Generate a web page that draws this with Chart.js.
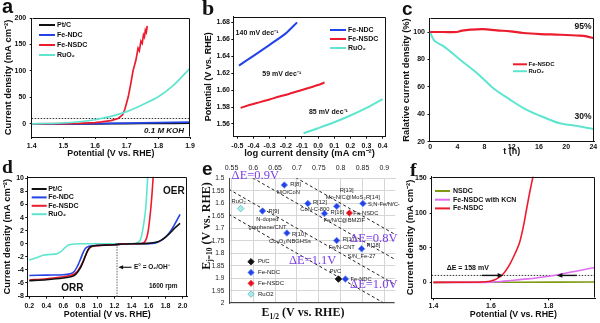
<!DOCTYPE html>
<html lang="en">
<head>
<meta charset="UTF-8">
<title>Fe-NSDC OER / ORR panels</title>
<script src="https://cdn.jsdelivr.net/npm/chart.js@4.4.0/dist/chart.umd.min.js"></script>
<style>
  html, body { margin: 0; padding: 0; background: #fff; }
  #fig { position: relative; width: 600px; height: 323px; overflow: hidden; }
  #fig canvas { position: absolute; }
  .tag { position: absolute; font-weight: bold; line-height: 1; color: #111; }
  .sans { font-family: "Liberation Sans", Arial, sans-serif; }
  .serif { font-family: "Liberation Serif", "Times New Roman", serif; }
</style>
</head>
<body>
<div id="fig">
  <canvas id="pa" width="200" height="161" style="left:0;top:0"></canvas>
  <canvas id="pb" width="200" height="161" style="left:200px;top:0"></canvas>
  <canvas id="pc" width="200" height="161" style="left:400px;top:0"></canvas>
  <canvas id="pd" width="200" height="162" style="left:0;top:161px"></canvas>
  <canvas id="pe" width="200" height="162" style="left:200px;top:161px"></canvas>
  <canvas id="pf" width="200" height="162" style="left:400px;top:161px"></canvas>

  <div class="tag sans" style="left:2px;top:-4px;font-size:20px">a</div>
  <div class="tag serif" style="left:202px;top:-3px;font-size:22px">b</div>
  <div class="tag sans" style="left:402px;top:-1px;font-size:19px">c</div>
  <div class="tag serif" style="left:2px;top:157px;font-size:19.5px">d</div>
  <div class="tag sans" style="left:202px;top:159px;font-size:19px">e</div>
  <div class="tag serif" style="left:410px;top:160px;font-size:19.5px">f</div>
</div>

<script>
// ---------- data ----------
// a: OER polarization curves in 0.1 M KOH
const aTicksX = [1.4, 1.5, 1.6, 1.7, 1.8, 1.9];
const aTicksY = [0, 50, 100, 150, 200];
const aPtcX = [1.40, 1.60, 1.70, 1.80, 1.90];
const aPtcY = [0, 0, 0.3, 0.7, 1.2];
const aFeNdcX = [1.40, 1.55, 1.60, 1.70, 1.80, 1.90];
const aFeNdcY = [0, 0, 0.3, 1.2, 2.2, 3.2];
const aFeNsdcX = [1.40, 1.50, 1.55, 1.60, 1.62, 1.65, 1.673, 1.687, 1.694, 1.705, 1.713, 1.720, 1.729, 1.736, 1.740, 1.745, 1.749, 1.753, 1.756, 1.759, 1.762, 1.765];
const aFeNsdcY = [0, 0.3, 0.8, 2.2, 3.5, 6, 10, 17, 27, 51, 76, 100, 120, 143, 138, 156, 152, 168, 164, 177, 173, 185];
const aRuo2X = [1.40, 1.45, 1.50, 1.55, 1.60, 1.65, 1.70, 1.75, 1.80, 1.85, 1.90];
const aRuo2Y = [0, 0.5, 1.5, 3.8, 7.6, 14, 23, 36, 51, 74, 105];
const aRefJ = 10;

// b: Tafel plots
const bTicksX = [-0.5, -0.4, -0.3, -0.2, -0.1, 0.0, 0.1, 0.2, 0.3, 0.4];
const bTicksY = [1.56, 1.58, 1.60, 1.62, 1.64, 1.66, 1.68];
const bFeNdcX = [-0.49, -0.40, -0.30, -0.20, -0.13];
const bFeNdcY = [1.629, 1.6405, 1.6535, 1.667, 1.680];
const bFeNsdcX = [-0.48, -0.44, -0.42, -0.36, -0.30, -0.24, -0.18, -0.12, -0.06, 0.00, 0.04];
const bFeNsdcY = [1.579, 1.5815, 1.5828, 1.5858, 1.589, 1.5925, 1.5955, 1.599, 1.6025, 1.606, 1.609];
const bRuo2X = [-0.09, 0.0, 0.1, 0.2, 0.3, 0.4];
const bRuo2Y = [1.549, 1.555, 1.562, 1.570, 1.579, 1.5895];
const bSlopes = ['140 mV dec⁻¹', '59 mV dec⁻¹', '85 mV dec⁻¹'];

// c: chronoamperometric stability
const cTicksX = [0, 4, 8, 12, 16, 20, 24];
const cTicksY = [20, 40, 60, 80, 100];
const cFeNsdcX = [0, 2, 3.9, 4.7, 5.9, 7.8, 9.8, 11.8, 13.7, 16.2, 19.1, 22, 23, 24];
const cFeNsdcY = [100, 100, 100, 101, 101.7, 102.1, 101.2, 100.5, 99.3, 98.5, 98, 97.3, 96.8, 95.6];
const cRuo2X = [0, 0.25, 0.7, 2, 4.4, 6.9, 9.3, 11.8, 14.2, 16.7, 19.1, 21.6, 24];
const cRuo2Y = [100, 96.8, 93.2, 89.5, 79.8, 70, 59, 50.5, 43.2, 37.8, 33.4, 31.5, 29.3];
const cRetained = ['95%', '30%'];

// d: bifunctional ORR / OER curves at 1600 rpm
const dTicksX = [0.2, 0.4, 0.6, 0.8, 1.0, 1.2, 1.4, 1.6, 1.8, 2.0];
const dTicksY = [-8, -6, -4, -2, 0, 2, 4, 6, 8, 10];
const dPtcX = [0.2, 0.4, 0.6, 0.7, 0.75, 0.8, 0.83, 0.86, 0.89, 0.92, 0.96, 1.1, 1.2, 1.3, 1.4, 1.6, 1.7, 1.75, 1.8, 1.85, 1.9, 1.97];
const dPtcY = [-5.65, -5.5, -5.25, -5.0, -4.6, -3.7, -2.8, -1.8, -0.9, -0.45, -0.3, -0.22, -0.15, -0.05, 0, 0.05, 0.25, 0.55, 1.0, 1.6, 2.3, 3.1];
const dFeNdcX = [0.2, 0.4, 0.6, 0.68, 0.73, 0.77, 0.8, 0.83, 0.86, 0.9, 0.96, 1.1, 1.2, 1.3, 1.4, 1.65, 1.72, 1.78, 1.84, 1.9, 1.97];
const dFeNdcY = [-4.85, -4.8, -4.75, -4.6, -4.2, -3.3, -2.4, -1.4, -0.7, -0.4, -0.3, -0.2, -0.15, -0.05, 0, 0.05, 0.3, 0.8, 1.6, 2.8, 4.5];
const dFeNsdcX = [0.2, 0.4, 0.6, 0.7, 0.76, 0.8, 0.84, 0.87, 0.9, 0.93, 0.98, 1.1, 1.2, 1.3, 1.4, 1.5, 1.55, 1.58, 1.60, 1.625, 1.64, 1.655];
const dFeNsdcY = [-5.55, -5.35, -5.05, -4.8, -4.3, -3.5, -2.5, -1.5, -0.8, -0.45, -0.3, -0.2, -0.15, -0.05, 0, 0, 0.2, 1.0, 2.3, 5.2, 7.5, 10.3];
const dRuo2X = [0.2, 0.3, 0.36, 0.44, 0.52, 0.57, 0.62, 0.66, 0.72, 0.8, 1.44, 1.48, 1.51, 1.53, 1.55, 1.565, 1.578, 1.59];
const dRuo2Y = [-2.5, -2.05, -1.75, -1.65, -1.55, -1.2, -0.6, -0.2, -0.05, 0, 0, 0.2, 0.8, 2.0, 3.6, 5.2, 7.5, 10.3];
const dEquil = 1.23;

// e: E(j=10) vs E1/2 comparison with literature
const eTicksX = [0.55, 0.6, 0.65, 0.7, 0.75, 0.8, 0.85, 0.9];
const eTicksY = [1.5, 1.55, 1.6, 1.65, 1.7, 1.75, 1.8, 1.85, 1.9, 1.95, 2.0];
const eLitNames = ['NiO/CoN', 'N-doped\ngraphene/CNT', 'Co₃O₄/NBGHSs', 'CoN-C-800', 'Fe/N/C@BMZIF', 'Mo-N/C@MoS₂', 'S,N-Fe/N/C-CNT', 'Fe/N-CNT', 'S/N_Fe-27'];
const eLitRefs = ['R[8]', 'R[9]', 'R[10]', 'R[12]', 'R[16]', 'R[13]', 'R[14]', 'R[17]', 'R[18]'];
const eLitHalf = [0.671, 0.621, 0.677, 0.725, 0.763, 0.791, 0.851, 0.791, 0.848];
const eLitJ10 = [1.527, 1.631, 1.719, 1.601, 1.641, 1.612, 1.601, 1.749, 1.782];
const eOwnNames = ['Pt/C', 'Fe-NDC', 'Fe-NSDC', 'RuO2'];
const eOwnHalf = [0.795, 0.811, 0.820, 0.571];
const eOwnJ10 = [1.903, 1.903, 1.639, 1.621];
const eDeltaE = [0.8, 0.9, 1.0, 1.1];

// f: KCN poisoning
const fTicksX = [1.4, 1.6, 1.8];
const fTicksY = [0, 50, 100, 150];
const fNsdcX = [1.40, 1.70, 1.96];
const fNsdcY = [0, 0.2, 0.5];
const fKcnX = [1.40, 1.58, 1.62, 1.66, 1.70, 1.75, 1.80, 1.85, 1.90, 1.96];
const fKcnY = [0, 0, 0.8, 2.3, 4.0, 6.0, 8.8, 12.5, 16.5, 21.5];
const fFeNsdcX = [1.40, 1.55, 1.58, 1.60, 1.62, 1.64, 1.66, 1.68, 1.70, 1.715, 1.725, 1.735, 1.745, 1.75];
const fFeNsdcY = [0, 0.2, 0.8, 2, 5, 11, 22, 38, 58, 85, 108, 130, 150, 160];
const fRefJ = 10;
const fShift = 'ΔE = 158 mV';

// ---------- helpers ----------
const SANS = '"Liberation Sans", Arial, sans-serif';
const SERIF = '"Liberation Serif", "Times New Roman", serif';
const BLACK = '#111', BLUE = '#2343e8', RED = '#ec1b2e', CYAN = '#5fe5cf', OLIVE = '#7f9a12', PINK = '#e06ef0';

const pts = (xs, ys) => xs.map((x, i) => ({ x, y: ys[i] }));
const first = a => a[0], last = a => a[a.length - 1];

function curve(label, xs, ys, color, order, extra) {
  return Object.assign({
    label, data: pts(xs, ys), borderColor: color, backgroundColor: color,
    borderWidth: 1.7, pointRadius: 0, showLine: true, tension: 0.25, order, fill: false
  }, extra || {});
}

function dotted(xs, ys, order) {
  return { label: '', noKey: true, data: pts(xs, ys), borderColor: '#333', borderWidth: 1,
           borderDash: [1.5, 1.5], pointRadius: 0, showLine: true, order };
}

function axis(o) {
  return {
    type: 'linear', position: o.pos, min: o.min, max: o.max, reverse: !!o.reverse,
    afterBuildTicks: s => { s.ticks = o.ticks.map(v => ({ value: v })); },
    afterFit: s => {
      if (s.isHorizontal()) { s.height = o.size; s.paddingLeft = 0; s.paddingRight = 0; }
      else { s.width = o.size; s.paddingTop = 0; s.paddingBottom = 0; }
    },
    border: { display: true, color: o.borderColor || BLACK, width: 1 },
    grid: { drawOnChartArea: !!o.grid, color: o.grid || BLACK, drawTicks: !!o.tick, tickLength: o.tick || 0, tickColor: BLACK },
    ticks: { padding: o.tickPad, color: o.tickColor || BLACK, autoSkip: false, maxRotation: 0, minRotation: 0,
             font: o.tickFont || { family: SANS, size: 7, weight: 'bold' }, callback: o.fmt },
    title: o.title
      ? { display: true, text: o.title, color: BLACK, padding: o.titlePad,
          font: { family: SANS, size: o.titleSize || 9, weight: 'bold', lineHeight: 1 } }
      : { display: false }
  };
}

function framePlugin(sides, color) {
  return { id: 'frame', afterDatasetsDraw(chart) {
    const { ctx, chartArea: a } = chart;
    const l = Math.round(a.left) + 0.5, r = Math.round(a.right) - 0.5;
    const t = Math.round(a.top) + 0.5, b = Math.round(a.bottom) - 0.5;
    ctx.save();
    ctx.strokeStyle = color || BLACK; ctx.lineWidth = 1; ctx.beginPath();
    if (sides.includes('t')) { ctx.moveTo(l, t); ctx.lineTo(r, t); }
    if (sides.includes('r')) { ctx.moveTo(r, t); ctx.lineTo(r, b); }
    if (sides.includes('b')) { ctx.moveTo(l, b); ctx.lineTo(r, b); }
    if (sides.includes('l')) { ctx.moveTo(l, t); ctx.lineTo(l, b); }
    ctx.stroke(); ctx.restore();
  }};
}

function diamond(ctx, x, y, r, fill, stroke) {
  ctx.beginPath();
  ctx.moveTo(x, y - r); ctx.lineTo(x + r, y); ctx.lineTo(x, y + r); ctx.lineTo(x - r, y);
  ctx.closePath(); ctx.fillStyle = fill; ctx.fill();
  if (stroke) { ctx.strokeStyle = stroke; ctx.lineWidth = 0.8; ctx.stroke(); }
}

// legend inside the plot, rows offset from the chart area's top-left corner
function keyPlugin(o) {
  return { id: 'key', afterDraw(chart) {
    const { ctx, chartArea: a } = chart;
    ctx.save();
    ctx.font = `${o.weight || 'bold'} ${o.size}px ${SANS}`;
    ctx.textBaseline = 'middle'; ctx.textAlign = 'left';
    let row = 0;
    chart.data.datasets.forEach(ds => {
      if (ds.noKey) return;
      const x = a.left + o.x, y = a.top + o.y + row * o.gap;
      let tx;
      if (o.marker) {
        diamond(ctx, x, y, o.r, ds.pointBackgroundColor, ds.pointBorderColor);
        tx = x + o.pad;
      } else {
        ctx.strokeStyle = ds.borderColor; ctx.lineWidth = o.lw || 2;
        ctx.beginPath(); ctx.moveTo(x, y); ctx.lineTo(x + o.len, y); ctx.stroke();
        tx = x + o.len + o.pad;
      }
      ctx.fillStyle = BLACK;
      ctx.fillText(ds.label, tx, y);
      row++;
    });
    ctx.restore();
  }};
}

function arrow(ctx, x1, y1, x2, y2, lw, head) {
  const dir = Math.sign(x2 - x1);
  ctx.lineWidth = lw;
  ctx.beginPath(); ctx.moveTo(x1, y1); ctx.lineTo(x2 - dir * head, y2); ctx.stroke();
  ctx.beginPath(); ctx.moveTo(x2, y2);
  ctx.lineTo(x2 - dir * head * 1.6, y2 - head * 0.7);
  ctx.lineTo(x2 - dir * head * 1.6, y2 + head * 0.7);
  ctx.closePath(); ctx.fill();
}

// text and arrows placed in data coordinates (plus optional pixel nudges)
function notesPlugin(items) {
  return { id: 'notes', afterDraw(chart) {
    const { ctx, scales: { x, y } } = chart;
    items.forEach(n => {
      const px = x.getPixelForValue(n.x) + (n.dx || 0);
      const py = y.getPixelForValue(n.y) + (n.dy || 0);
      ctx.save();
      ctx.fillStyle = n.color || BLACK; ctx.strokeStyle = n.color || BLACK;
      if (n.to !== undefined) {
        arrow(ctx, px, py, x.getPixelForValue(n.to), py, n.lw || 1.3, n.head || 3.5);
      } else {
        ctx.font = n.font; ctx.textAlign = n.align || 'center'; ctx.textBaseline = 'middle';
        String(n.text).split('\n').forEach((ln, i) => ctx.fillText(ln, px, py + i * (n.lh || 0)));
      }
      ctx.restore();
    });
  }};
}

// rich (subscripted) serif titles for panel e, in canvas pixels
function richTitlePlugin(titles) {
  return { id: 'richTitles', afterDraw(chart) {
    const ctx = chart.ctx;
    titles.forEach(t => {
      ctx.save();
      ctx.translate(t.x, t.y); ctx.rotate(t.rot || 0);
      ctx.fillStyle = BLACK; ctx.textAlign = 'left'; ctx.textBaseline = 'alphabetic';
      const fontOf = s => `bold ${s.sub ? t.size * 0.62 : t.size}px ${SERIF}`;
      let w = 0;
      t.segs.forEach(s => { ctx.font = fontOf(s); w += ctx.measureText(s.t).width; });
      let cx = -w / 2;
      t.segs.forEach(s => {
        ctx.font = fontOf(s);
        ctx.fillText(s.t, cx, t.size * 0.35 + (s.sub ? t.size * 0.22 : 0));
        cx += ctx.measureText(s.t).width;
      });
      ctx.restore();
    });
  }};
}

function build(id, cfg) {
  return new Chart(document.getElementById(id), {
    type: 'scatter',
    data: { datasets: cfg.datasets },
    options: {
      responsive: false, animation: false, devicePixelRatio: 1, events: [],
      layout: { padding: cfg.pad },
      plugins: { legend: { display: false }, tooltip: { enabled: false } },
      scales: { x: cfg.x, y: cfg.y }
    },
    plugins: cfg.plugins
  });
}

const f1 = v => v.toFixed(1);
const f2 = v => v.toFixed(2);
const f0 = v => String(v);
const trim = v => String(+v.toFixed(2));

// ---------- a ----------
build('pa', {
  pad: { top: 18, right: 10, left: 0, bottom: 0 },
  datasets: [
    curve('Pt/C', aPtcX, aPtcY, BLACK, 4),
    curve('Fe-NDC', aFeNdcX, aFeNdcY, BLUE, 3),
    curve('Fe-NSDC', aFeNsdcX, aFeNsdcY, RED, 2, { tension: 0 }),
    curve('RuO₂', aRuo2X, aRuo2Y, CYAN, 1),
    dotted([first(aTicksX), last(aTicksX)], [aRefJ, aRefJ], 5)
  ],
  x: axis({ pos: 'bottom', min: 1.4, max: 1.9, ticks: aTicksX, fmt: f1, size: 24, tick: 2, tickPad: 2.5,
            title: 'Potential (V vs. RHE)', titleSize: 8.8, titlePad: 2.6 }),
  y: axis({ pos: 'left', min: -25, max: 200, ticks: aTicksY, fmt: f0, size: 31.7, tick: 2, tickPad: 3.5,
            title: 'Current density (mA cm⁻²)', titleSize: 9.4, titlePad: 3.3 }),
  plugins: [
    framePlugin('tr'),
    keyPlugin({ x: 7.3, y: 7, gap: 10, len: 16, pad: 2, size: 7 }),
    notesPlugin([{ x: 1.818, y: -12.6, text: '0.1 M KOH', font: `italic bold 8px ${SANS}` }])
  ]
});

// ---------- b ----------
build('pb', {
  pad: { top: 16.7, right: 14.3, left: 0, bottom: 0 },
  datasets: [
    curve('Fe-NDC', bFeNdcX, bFeNdcY, BLUE, 1, { borderWidth: 2 }),
    curve('Fe-NSDC', bFeNsdcX, bFeNsdcY, RED, 2, { borderWidth: 2 }),
    curve('RuO₂', bRuo2X, bRuo2Y, CYAN, 3, { borderWidth: 2 })
  ],
  x: axis({ pos: 'bottom', min: -0.525, max: 0.419, ticks: bTicksX, fmt: f1, size: 24.3, tick: 2, tickPad: 3,
            title: 'log current density (mA cm⁻²)', titleSize: 9.4, titlePad: 2.5 }),
  y: axis({ pos: 'left', min: 1.545, max: 1.6867, ticks: bTicksY, fmt: f2, size: 33.3, tick: 2, tickPad: 1.3,
            title: 'Potential (V vs. RHE)', titleSize: 9, titlePad: 3.8 }),
  plugins: [
    framePlugin('tr'),
    keyPlugin({ x: 96.7, y: 13.3, gap: 9, len: 16, pad: 2, size: 7 }),
    notesPlugin([
      { x: -0.378, y: 1.667, text: bSlopes[0], font: `bold 7px ${SANS}` },
      { x: -0.225, y: 1.619, text: bSlopes[1], font: `bold 7px ${SANS}` },
      { x: 0.064, y: 1.5746, text: bSlopes[2], font: `bold 7px ${SANS}` }
    ])
  ]
});

// ---------- c ----------
build('pc', {
  pad: { top: 18.3, right: 6, left: 0, bottom: 0 },
  datasets: [
    curve('Fe-NSDC', cFeNsdcX, cFeNsdcY, RED, 1, { borderWidth: 2.2, tension: 0.35 }),
    curve('RuO₂', cRuo2X, cRuo2Y, CYAN, 2, { borderWidth: 2, tension: 0.35 })
  ],
  x: axis({ pos: 'bottom', min: -0.1, max: 24.1, ticks: cTicksX, fmt: f0, size: 19.3, tick: 0, tickPad: 0.8,
            title: 't (h)', titleSize: 9, titlePad: 4.6 }),
  y: axis({ pos: 'left', min: 20, max: 110, ticks: cTicksY, fmt: f0, size: 29.5, tick: 2, tickPad: 2.5,
            title: 'Ralative current density (%)', titleSize: 9.4, titlePad: 2.2 }),
  plugins: [
    framePlugin('tr'),
    keyPlugin({ x: 83.5, y: 46, gap: 6.9, len: 14, pad: 1.5, size: 6 }),
    notesPlugin([
      { x: 22.5, y: 103.7, text: cRetained[0], font: `bold 8.5px ${SANS}` },
      { x: 22.5, y: 38.3, text: cRetained[1], font: `bold 8.5px ${SANS}` }
    ])
  ]
});

// ---------- d ----------
build('pd', {
  pad: { top: 15.7, right: 12.7, left: 0, bottom: 0 },
  datasets: [
    curve('Pt/C', dPtcX, dPtcY, BLACK, 1, { borderWidth: 1.6 }),
    curve('Fe-NDC', dFeNdcX, dFeNdcY, BLUE, 3, { borderWidth: 1.6 }),
    curve('Fe-NSDC', dFeNsdcX, dFeNsdcY, RED, 2, { borderWidth: 1.6 }),
    curve('RuO₂', dRuo2X, dRuo2Y, CYAN, 4, { borderWidth: 1.6 }),
    Object.assign(dotted([dEquil, dEquil], [-8.1, -0.3], 5), { borderColor: '#666', borderDash: [1.5, 1.2] })
  ],
  x: axis({ pos: 'bottom', min: 0.1765, max: 2.055, ticks: dTicksX, fmt: f1, size: 26.3, tick: 2, tickPad: 3.5,
            title: 'Potential (V vs. RHE)', titleSize: 8.8, titlePad: 3.6 }),
  y: axis({ pos: 'left', min: -8.1, max: 10.25, ticks: dTicksY, fmt: f0, size: 27.3, tick: 2, tickPad: 1.3,
            title: 'Current density (mA cm⁻²)', titleSize: 9.4, titlePad: 2.6 }),
  plugins: [
    framePlugin('tr'),
    keyPlugin({ x: 4.4, y: 12.3, gap: 8.4, len: 15, pad: 1.5, size: 7 }),
    notesPlugin([
      { x: 1.898, y: 7.96, text: 'OER', font: `bold 10px ${SANS}` },
      { x: 0.705, y: -6.84, text: 'ORR', font: `bold 10px ${SANS}` },
      { x: 1.773, y: -6.5, text: '1600 rpm', font: `bold 6.5px ${SANS}` },
      { x: 1.40, y: -3.6, to: 1.245, lw: 1.1, head: 3 },
      { x: 1.428, y: -3.6, text: 'E° = O₂/OH⁻', font: `bold 6.5px ${SANS}`, align: 'left' }
    ])
  ]
});

// ---------- e ----------
const eLineX = [0.5, 1.0];
const eNameOff = [[4, 7, 'center'], [5, 8, 'center'], [3, 8, 'center'], [7, 6, 'center'], [-1, 7, 'left'],
                  [9, -9, 'center'], [5, 1, 'left'], [5, 7, 'center'], [0, 8, 'center']];
const eRefOff = [[6, -1, 'left'], [6, 0, 'left'], [5, 1, 'left'], [5, -1, 'left'], [6, -1, 'left'],
                 [10, -16, 'center'], [3, -6, 'left'], [6, -1, 'left'], [5, -3, 'left']];
const eOwnOff = [[-3, -8, 'center'], [5, 0, 'left'], [4, 0, 'left'], [-2, -7, 'center']];
const eOwnText = ['Pt/C', 'Fe-NDC', 'Fe-NSDC', 'RuO₂'];
const eColors = [[BLACK, BLACK], [BLUE, '#6f8cf0'], ['#e3101e', '#f06070'], ['#a9ecec', '#5cb8b8']];
const eLabelFont = `5.8px ${SANS}`;
const eNotes = [];
eLitNames.forEach((nm, i) => {
  eNotes.push({ x: eLitHalf[i], y: eLitJ10[i], dx: eNameOff[i][0], dy: eNameOff[i][1], align: eNameOff[i][2],
                text: nm, lh: 8, font: eLabelFont, color: '#222' });
  eNotes.push({ x: eLitHalf[i], y: eLitJ10[i], dx: eRefOff[i][0], dy: eRefOff[i][1], align: eRefOff[i][2],
                text: eLitRefs[i], font: eLabelFont, color: '#222' });
});
eOwnNames.forEach((nm, i) => {
  eNotes.push({ x: eOwnHalf[i], y: eOwnJ10[i], dx: eOwnOff[i][0], dy: eOwnOff[i][1], align: eOwnOff[i][2],
                text: eOwnText[i], font: eLabelFont, color: '#222' });
});
const dEText = eDeltaE.map(v => `ΔE=${v.toFixed(1)}V`);
const dEFont = `12.5px ${SERIF}`, PURPLE = '#7b3fe6';
eNotes.push({ x: 0.6045, y: 1.488, text: dEText[1], font: dEFont, color: PURPLE });
eNotes.push({ x: 0.876, y: 1.742, text: dEText[0], font: dEFont, color: PURPLE });
eNotes.push({ x: 0.736, y: 1.829, text: dEText[3], font: dEFont, color: PURPLE });
eNotes.push({ x: 0.876, y: 1.926, text: dEText[2], font: dEFont, color: PURPLE });

const eDatasets = eOwnNames.map((nm, i) => ({
  label: nm, data: [{ x: eOwnHalf[i], y: eOwnJ10[i] }], pointStyle: 'rectRot', pointRadius: 3.3,
  pointBackgroundColor: eColors[i][0], pointBorderColor: eColors[i][1], pointBorderWidth: 0.8, order: 1
}));
eDatasets.push({
  label: 'literature', noKey: true, data: pts(eLitHalf, eLitJ10), pointStyle: 'rectRot', pointRadius: 3.3,
  pointBackgroundColor: BLUE, pointBorderColor: '#6f8cf0', pointBorderWidth: 0.8, order: 2
});
eDeltaE.forEach(d => eDatasets.push({
  label: '', noKey: true, data: eLineX.map(x => ({ x, y: x + d })), showLine: true, pointRadius: 0,
  borderColor: '#222', borderWidth: 1, borderDash: [3, 2.5], order: 3
}));

build('pe', {
  pad: { top: 0, right: 1, left: 0, bottom: 19.7 },
  datasets: eDatasets,
  x: axis({ pos: 'top', min: 0.545, max: 0.925, ticks: eTicksX, fmt: trim, size: 17.3, tick: 0, tickPad: 6,
            grid: '#d6d6d6', borderColor: '#d6d6d6', tickColor: '#222', tickFont: { family: SANS, size: 7 } }),
  y: axis({ pos: 'left', min: 1.5, max: 2.0, reverse: true, ticks: eTicksY, fmt: trim, size: 29.3, tick: 0, tickPad: 5,
            grid: '#d6d6d6', borderColor: '#444', tickColor: '#222', tickFont: { family: SANS, size: 6.5 } }),
  plugins: [
    framePlugin('b', '#444'),
    keyPlugin({ x: 21.7, y: 83.4, gap: 10.8, pad: 7, size: 6, weight: 'normal', marker: true, r: 3.2 }),
    notesPlugin(eNotes),
    richTitlePlugin([
      { x: 103, y: 150.7, size: 12, segs: [{ t: 'E' }, { t: '1/2', sub: true }, { t: ' (V vs. RHE)' }] },
      { x: 5.5, y: 65, size: 12, rot: -Math.PI / 2, segs: [{ t: 'E' }, { t: 'j=10', sub: true }, { t: ' (V vs. RHE)' }] }
    ])
  ]
});

// ---------- f ----------
build('pf', {
  pad: { top: 15.7, right: 5, left: 0, bottom: 0 },
  datasets: [
    curve('NSDC', fNsdcX, fNsdcY, OLIVE, 3, { borderWidth: 1.6 }),
    curve('Fe-NSDC with KCN', fKcnX, fKcnY, PINK, 2, { borderWidth: 1.6 }),
    curve('Fe-NSDC', fFeNsdcX, fFeNsdcY, RED, 1, { borderWidth: 1.6 }),
    dotted([1.394, 1.962], [fRefJ, fRefJ], 5)
  ],
  x: axis({ pos: 'bottom', min: 1.394, max: 1.962, ticks: fTicksX, fmt: f1, size: 24.7, tick: 2, tickPad: 2,
            title: 'Potential (V vs. RHE)', titleSize: 8.8, titlePad: 3.6 }),
  y: axis({ pos: 'left', min: -23, max: 152.4, ticks: fTicksY, fmt: f0, size: 31.7, tick: 2, tickPad: 3,
            title: 'Current density (mA cm⁻²)', titleSize: 9.4, titlePad: 5.3 }),
  plugins: [
    framePlugin('tr'),
    keyPlugin({ x: 3.3, y: 14.3, gap: 8.7, len: 15, pad: 3, size: 7 }),
    notesPlugin([
      { x: 1.568, y: fRefJ, to: 1.643, lw: 1.4, head: 3.5 },
      { x: 1.898, y: fRefJ, to: 1.829, lw: 1.4, head: 3.5 },
      { x: 1.446, y: 21, text: fShift, font: `bold 7px ${SANS}`, align: 'left' }
    ])
  ]
});
</script>
</body>
</html>
